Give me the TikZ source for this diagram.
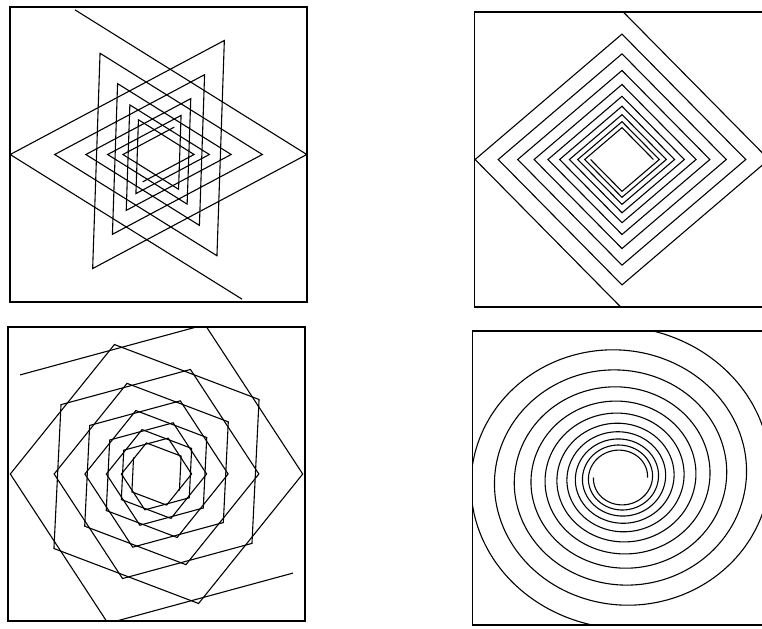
\documentclass[tikz,border=0pt]{standalone}
\usepackage{tikz}
\begin{document}
\begin{tikzpicture}[x=0.5pt, y=-0.5pt]
        \tikzset{
            panel/.style={draw, line width=0.9pt},
            spiralline/.style={draw, line width=0.55pt, line join=miter},
        }
        \useasboundingbox (0,0) rectangle (762,628);
        \clip (0,0) rectangle (762,628);

        % Centres of the four panels
        \coordinate (tl) at (158.5,154.5);
        \coordinate (tr) at (622,159.5);
        \coordinate (bl) at (156.5,474);
        \coordinate (br) at (620.5,477.5);

        % Top left: steps of 120 degrees
        \begin{scope}
            \clip (10,7) rectangle (307,302);
            \foreach \s in {0,180}
                \draw[spiralline, shift={(tl)}, y=0.5pt] plot[samples at={0,...,14}, variable=\n]
                    ({167*pow(0.70,\n/3)*cos(\s-60-120*\n)}, {167*pow(0.70,\n/3)*sin(\s-60-120*\n)});
        \end{scope}
        \draw[panel] (10,7) rectangle (307,302);

        % Top right: steps of 90 degrees
        \begin{scope}
            \clip (474.5,12) rectangle (769.5,307);
            \foreach \s in {0,180}
                \draw[spiralline, shift={(tr)}, y=0.465pt] plot[samples at={0,...,19}, variable=\n]
                    ({160*pow(0.71,\n/4)*cos(\s-90-90*\n)}, {160*pow(0.71,\n/4)*sin(\s-90-90*\n)});
        \end{scope}
        \draw[panel] (474.5,12) rectangle (769.5,307);

        % Bottom left: steps of 72 degrees
        \begin{scope}
            \clip (8,327) rectangle (305,621);
            \foreach \s in {0,180}
                \draw[spiralline, shift={(bl)}, y=0.5pt] plot[samples at={0,...,25}, variable=\n]
                    ({168.6*pow(0.70,\n/5)*cos(\s+144-72*\n)}, {168.6*pow(0.70,\n/5)*sin(\s+144-72*\n)});
        \end{scope}
        \draw[panel] (8,327) rectangle (305,621);

        % Bottom right: the smooth curve
        \begin{scope}
            \clip (472.5,331) rectangle (767.5,625);
            \foreach \s in {0,180}
                \draw[spiralline, shift={(br)}, y=0.465pt] plot[domain=0:1900, samples=360, smooth, variable=\t]
                    ({27*pow(1.408,\t/360)*cos(\s+180+\t)}, {27*pow(1.408,\t/360)*sin(\s+180+\t)});
        \end{scope}
        \draw[panel] (472.5,331) rectangle (767.5,625);
\end{tikzpicture}
\end{document}
